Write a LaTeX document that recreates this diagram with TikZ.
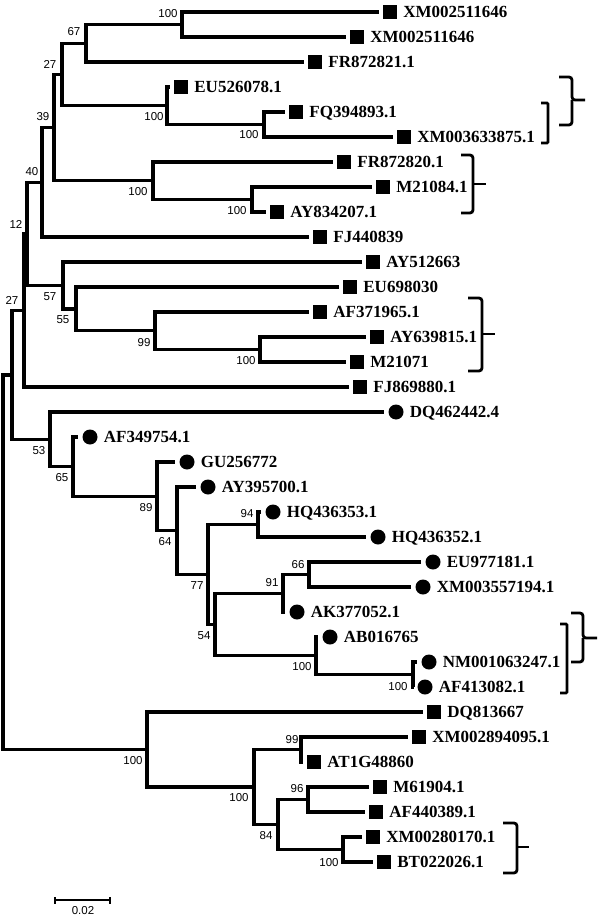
\documentclass[tikz,border=0pt]{standalone}
\usepackage{fontspec}
\setmainfont{Liberation Serif}
\newfontfamily\bsf{Liberation Sans}
\tikzset{
  br/.style={line width=3.3pt, line join=miter},
  sq/.style={rectangle, fill=black, minimum size=14pt, inner sep=0pt},
  ci/.style={circle, fill=black, minimum size=15pt, inner sep=0pt},
  tx/.style={font=\fontsize{17}{17}\selectfont\bfseries, anchor=west, inner sep=0pt, text height=11pt, text depth=0pt},
  bs/.style={font=\bsf\fontsize{11.5}{11.5}\selectfont, inner sep=0pt},
  brk/.style={line width=2.8pt, rounded corners=3pt},
}
\newcommand\leafnode[5]{\node[#2] (#1) at (#3,#4) {}; \node[tx] (#1t) at ([xshift=6pt]#1.east) {#5};}
\begin{document}
\begin{tikzpicture}[x=1pt,y=-1pt]
\useasboundingbox (0,0) rectangle (600,917);
% leaves
\leafnode{L1}{sq}{390}{12}{XM002511646}
\leafnode{L2}{sq}{357}{37}{XM002511646}
\leafnode{L3}{sq}{315}{62}{FR872821.1}
\leafnode{L4}{sq}{181}{87}{EU526078.1}
\leafnode{L5}{sq}{296}{112}{FQ394893.1}
\leafnode{L6}{sq}{404}{137}{XM003633875.1}
\leafnode{L7}{sq}{344}{162}{FR872820.1}
\leafnode{L8}{sq}{383}{187}{M21084.1}
\leafnode{L9}{sq}{277}{212}{AY834207.1}
\leafnode{L10}{sq}{320}{237}{FJ440839}
\leafnode{L11}{sq}{373}{262}{AY512663}
\leafnode{L12}{sq}{350}{287}{EU698030}
\leafnode{L13}{sq}{320}{312}{AF371965.1}
\leafnode{L14}{sq}{377}{337}{AY639815.1}
\leafnode{L15}{sq}{357}{362}{M21071}
\leafnode{L16}{sq}{360}{387}{FJ869880.1}
\leafnode{L17}{ci}{396}{412}{DQ462442.4}
\leafnode{L18}{ci}{90}{437}{AF349754.1}
\leafnode{L19}{ci}{187}{462}{GU256772}
\leafnode{L20}{ci}{208}{487}{AY395700.1}
\leafnode{L21}{ci}{273}{512}{HQ436353.1}
\leafnode{L22}{ci}{378}{537}{HQ436352.1}
\leafnode{L23}{ci}{433}{562}{EU977181.1}
\leafnode{L24}{ci}{423}{587}{XM003557194.1}
\leafnode{L25}{ci}{297}{612}{AK377052.1}
\leafnode{L26}{ci}{330}{637}{AB016765}
\leafnode{L27}{ci}{429}{662}{NM001063247.1}
\leafnode{L28}{ci}{425}{687}{AF413082.1}
\leafnode{L29}{sq}{434}{712}{DQ813667}
\leafnode{L30}{sq}{419}{737}{XM002894095.1}
\leafnode{L31}{sq}{314}{762}{AT1G48860}
\leafnode{L32}{sq}{380}{787}{M61904.1}
\leafnode{L33}{sq}{376}{812}{AF440389.1}
\leafnode{L34}{sq}{373}{837}{XM00280170.1}
\leafnode{L35}{sq}{384}{862}{BT022026.1}
% internal nodes
\coordinate (A) at (182,24.5);
\coordinate (B) at (86,43.25);
\coordinate (C) at (264,124.5);
\coordinate (D) at (167,105.75);
\coordinate (E) at (62,74.5);
\coordinate (H) at (252,199.5);
\coordinate (G) at (153,180.75);
\coordinate (F) at (54,127.6);
\coordinate (I) at (42,182.3);
\coordinate (Kb) at (260,349.5);
\coordinate (K9) at (155,330.75);
\coordinate (Lf) at (76,308.9);
\coordinate (K) at (63,285.4);
\coordinate (J) at (27,233.9);
\coordinate (M) at (24,310.4);
\coordinate (N) at (12,374.9);
\coordinate (O) at (50,439.35);
\coordinate (P) at (73,466.7);
\coordinate (Q) at (157,496.4);
\coordinate (R) at (177,530.75);
\coordinate (S) at (208,574.5);
\coordinate (T) at (258,524.5);
\coordinate (U) at (215,624.5);
\coordinate (V) at (283,593.25);
\coordinate (W) at (309,574.5);
\coordinate (X) at (316,655.75);
\coordinate (Y) at (413,674.5);
\coordinate (Z) at (147,749.5);
\coordinate (AA) at (254,787);
\coordinate (AC) at (301,749.5);
\coordinate (AB) at (278,824.5);
\coordinate (AD) at (308,799.5);
\coordinate (AE) at (343,849.5);
\coordinate (RT) at (3,562.2);
% internal edges
\foreach \p/\c in {B/A,D/C,E/B,E/D,G/H,F/E,F/G,I/F,J/I,J/K,K/Lf,Lf/K9,K9/Kb,M/J,N/M,N/O,O/P,P/Q,Q/R,R/S,S/T,S/U,U/V,U/X,V/W,X/Y,RT/N,RT/Z,Z/AA,AA/AC,AA/AB,AB/AD,AB/AE}
  \draw[br] (\p) |- (\c);
% leaf edges
\foreach \p/\c in {A/L1,A/L2,B/L3,D/L4,C/L5,C/L6,G/L7,H/L8,H/L9,I/L10,K/L11,Lf/L12,K9/L13,Kb/L14,Kb/L15,M/L16,O/L17,P/L18,Q/L19,R/L20,T/L21,T/L22,W/L23,W/L24,V/L25,X/L26,Y/L27,Y/L28,Z/L29,AC/L30,AC/L31,AD/L32,AD/L33,AE/L34,AE/L35}
  \draw[br] (\p) |- ([xshift=-4pt]\c.west);
% bootstrap values
\node[bs] (b1) at (168,14) {100};
\node[bs] (b2) at (74,32) {67};
\node[bs] (b3) at (50,64) {27};
\node[bs] (b4) at (154,117) {100};
\node[bs] (b5) at (43,117) {39};
\node[bs] (b6) at (249,135) {100};
\node[bs] (b7) at (32,172) {40};
\node[bs] (b8) at (138,192) {100};
\node[bs] (b9) at (237,211) {100};
\node[bs] (b10) at (16,224) {12};
\node[bs] (b11) at (50,297) {57};
\node[bs] (b12) at (12,300) {27};
\node[bs] (b13) at (63,320) {55};
\node[bs] (b14) at (144,343) {99};
\node[bs] (b15) at (246,361) {100};
\node[bs] (b16) at (39,451) {53};
\node[bs] (b17) at (62,478) {65};
\node[bs] (b18) at (146,508) {89};
\node[bs] (b19) at (165,542) {64};
\node[bs] (b20) at (247,514) {94};
\node[bs] (b21) at (197,586) {77};
\node[bs] (b22) at (272,583) {91};
\node[bs] (b23) at (298,565) {66};
\node[bs] (b24) at (204,636) {54};
\node[bs] (b25) at (302,667) {100};
\node[bs] (b26) at (398,687) {100};
\node[bs] (b27) at (133,761) {100};
\node[bs] (b28) at (292,740) {99};
\node[bs] (b29) at (239,798) {100};
\node[bs] (b30) at (297,789) {96};
\node[bs] (b31) at (266,836) {84};
\node[bs] (b32) at (329,863) {100};
% brackets
\draw[brk] (559,77) -- (572,77) -- (572,100) -- (585,100);
\draw[brk] (572,100) -- (572,125) -- (559,125);
\draw[brk, rounded corners=1pt] (541,103) -- (548,103) -- (548,143) -- (541,143);
\draw[brk] (461,155) -- (473,155) -- (473,213) -- (461,213);
\draw[brk] (473,184) -- (486,184);
\draw[brk] (468,298) -- (482,298) -- (482,371) -- (468,371);
\draw[brk] (482,334) -- (495,334);
\draw[brk] (571,613) -- (583,613) -- (583,638) -- (597,638);
\draw[brk] (583,638) -- (583,662) -- (571,662);
\draw[brk, rounded corners=1pt] (560,624) -- (567,624) -- (567,693) -- (560,693);
\draw[brk] (503,823) -- (517,823) -- (517,873) -- (503,873);
\draw[brk] (517,847) -- (529,847);
% scale bar
\coordinate (s1) at (55,900);
\coordinate (s2) at (110,900);
\draw[line width=1.4pt] (s1) -- (s2);
\draw[line width=1.4pt] ([yshift=-3.5pt]s1) -- ([yshift=3.5pt]s1);
\draw[line width=1.4pt] ([yshift=-3.5pt]s2) -- ([yshift=3.5pt]s2);
\node[bs] (sl) at (83,911) {0.02};
\end{tikzpicture}
\end{document}
